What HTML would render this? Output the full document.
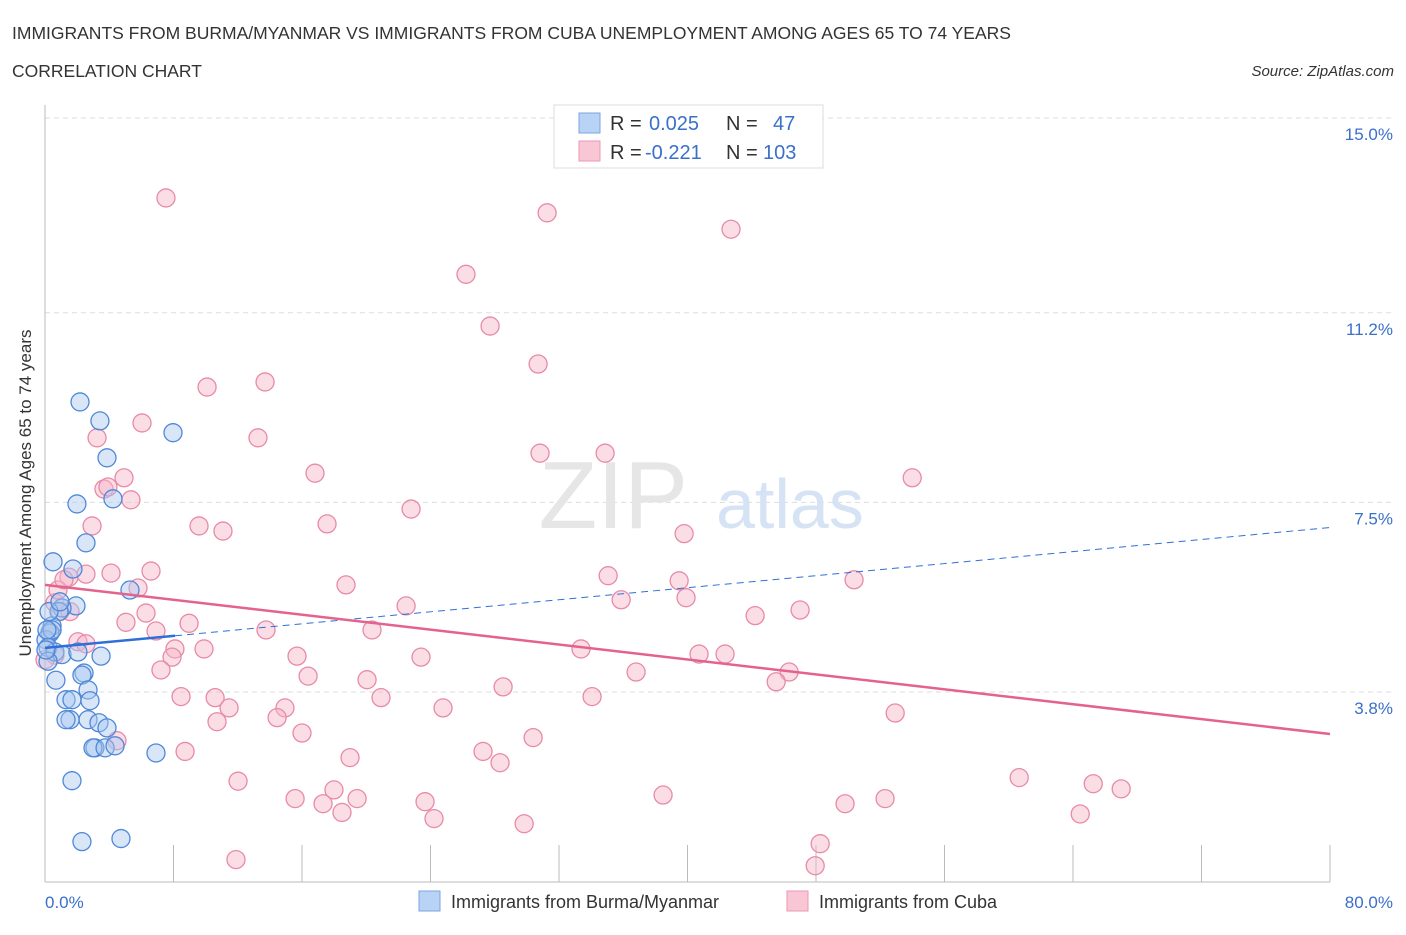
<!DOCTYPE html>
<html><head><meta charset="utf-8"><style>
body{margin:0;background:#fff;font-family:"Liberation Sans",sans-serif;}
svg text{font-family:"Liberation Sans",sans-serif;}
</style></head><body>
<svg id="c" width="1406" height="930" xmlns="http://www.w3.org/2000/svg">
<text x="12" y="39" font-size="17.5" fill="#333">IMMIGRANTS FROM BURMA/MYANMAR VS IMMIGRANTS FROM CUBA UNEMPLOYMENT AMONG AGES 65 TO 74 YEARS</text>
<text x="12" y="77" font-size="17.5" fill="#333">CORRELATION CHART</text>
<text x="1394" y="76" font-size="15" fill="#333" font-style="italic" text-anchor="end">Source: ZipAtlas.com</text>
<g id="grid"></g>
<text x="688" y="528" font-size="96" fill="#e6e6e6" font-family="Liberation Serif" text-anchor="end">ZIP</text>
<text x="716" y="528" font-size="70" fill="#d5e3f5">atlas</text>
<line x1="45" y1="105" x2="45" y2="882" stroke="#bbb"/>
<line x1="45" y1="882" x2="1330" y2="882" stroke="#bbb"/>
<g id="xt"></g>
<text x="31" y="493" font-size="17" fill="#333" text-anchor="middle" transform="rotate(-90 31 493)">Unemployment Among Ages 65 to 74 years</text>
<text x="45" y="908" font-size="17" fill="#3a70c8">0.0%</text>
<text x="1393" y="908" font-size="17" fill="#3a70c8" text-anchor="end">80.0%</text>
<g id="pts"></g>
<g id="tr"></g>
<g>
<rect x="554" y="105" width="269" height="63" fill="#fff" stroke="#ddd"/>
<rect x="579" y="113" width="21" height="20" fill="#b8d3f5" stroke="#7aa6e0"/>
<rect x="579" y="141" width="21" height="20" fill="#f9c6d6" stroke="#e99ab3"/>
<text x="610" y="130" font-size="20" fill="#333">R = </text><text x="649" y="130" font-size="20" fill="#3a70c8">0.025</text>
<text x="726" y="130" font-size="20" fill="#333">N = </text><text x="773" y="130" font-size="20" fill="#3a70c8">47</text>
<text x="610" y="159" font-size="20" fill="#333">R = </text><text x="645" y="159" font-size="20" fill="#3a70c8">-0.221</text>
<text x="726" y="159" font-size="20" fill="#333">N = </text><text x="763" y="159" font-size="20" fill="#3a70c8">103</text>
</g>
<g>
<rect x="419" y="891" width="21" height="20" fill="#b8d3f5" stroke="#7aa6e0"/>
<text x="451" y="908" font-size="18" fill="#333">Immigrants from Burma/Myanmar</text>
<rect x="787" y="891" width="21" height="20" fill="#f9c6d6" stroke="#e99ab3"/>
<text x="819" y="908" font-size="18" fill="#333">Immigrants from Cuba</text>
</g>
</svg>
<script>
const yTicks=[15.0,11.2,7.5,3.8];
const yTickLabels=["15.0%","11.2%","7.5%","3.8%"];
const xTicks=[0,8,16,24,32,40,48,56,64,72,80];
const burmaX=[2.18,3.42,7.97,3.86,4.23,1.99,2.55,0.50,1.74,5.29,1.93,1.06,0.87,0.44,0.31,0.06,0.19,0.62,1.06,2.05,3.49,0.19,0.68,2.43,2.30,2.68,1.31,1.68,2.80,1.56,1.31,2.68,3.36,3.86,3.11,2.99,3.74,4.36,6.91,1.68,2.30,4.73,0.25,0.06,0.44,0.93,0.12];
const burmaY=[9.46,9.09,8.86,8.37,7.57,7.47,6.71,6.34,6.20,5.79,5.48,5.44,5.37,5.09,4.95,4.82,4.67,4.58,4.53,4.58,4.50,4.40,4.03,4.17,4.13,3.84,3.65,3.65,3.63,3.26,3.26,3.26,3.20,3.10,2.71,2.71,2.71,2.75,2.61,2.07,0.88,0.94,5.37,4.62,5.01];
burmaY.push(5.56,5.01);
const cubaX=[7.53,31.26,42.71,26.21,27.71,30.70,13.70,10.09,6.04,3.24,13.26,30.82,34.87,4.92,16.81,53.99,3.67,3.92,5.35,22.79,2.93,9.59,11.08,17.56,39.79,1.49,2.55,4.11,6.60,35.06,39.48,18.74,50.37,5.79,0.62,0.93,1.56,35.87,39.91,22.48,47.01,6.29,44.21,5.04,8.97,6.91,13.76,20.36,0.31,2.05,2.55,8.09,9.90,33.37,40.72,42.34,15.69,23.41,7.91,0.62,7.22,46.33,16.38,45.52,36.80,20.05,28.52,8.47,10.59,20.92,34.06,11.46,24.78,14.94,52.93,14.45,10.71,16.00,30.39,4.48,8.72,18.99,27.27,28.33,12.02,60.65,65.26,67.00,17.99,15.57,38.48,52.30,17.31,19.43,23.66,49.81,64.45,24.22,18.49,29.83,48.26,11.89,47.95,0.00,0.81,1.18];
const cubaY=[13.44,13.15,12.83,11.95,10.94,10.20,9.85,9.75,9.05,8.76,8.76,8.46,8.46,7.98,8.07,7.98,7.76,7.80,7.55,7.37,7.04,7.04,6.94,7.08,6.89,6.04,6.10,6.12,6.16,6.07,5.97,5.89,5.99,5.83,5.54,5.37,5.37,5.60,5.64,5.48,5.40,5.34,5.29,5.16,5.14,4.99,5.01,5.01,4.97,4.78,4.74,4.64,4.64,4.64,4.54,4.54,4.50,4.48,4.48,4.52,4.23,4.19,4.11,4.00,4.19,4.04,3.90,3.71,3.69,3.69,3.71,3.49,3.49,3.49,3.39,3.30,3.22,3.00,2.91,2.85,2.64,2.52,2.64,2.42,2.06,2.13,2.01,1.91,1.89,1.72,1.79,1.72,1.62,1.72,1.66,1.62,1.42,1.33,1.45,1.23,0.84,0.53,0.41,4.43,5.79,5.99];
const burmaTrend=[4.66,7.01];
const cubaTrend=[5.89,2.98];
const burmaSolidEnd=8.1;
const NS='http://www.w3.org/2000/svg';
const xS=v=>45+v*16.0625;
const yS=v=>886.75-v*51.25;
function mk(t,a,p){const e=document.createElementNS(NS,t);for(const k in a)e.setAttribute(k,a[k]);p.appendChild(e);return e;}
const grid=document.getElementById('grid');
yTicks.forEach((t,i)=>{
 const l=mk('line',{x1:45,x2:1392,y1:yS(t),y2:yS(t),stroke:'#ddd','stroke-dasharray':'5,4'},grid);
 
 
 const tx=mk('text',{x:1393,y:yS(t)+22,'font-size':17,fill:'#3a70c8','text-anchor':'end'},grid);
 tx.textContent=yTickLabels[i];
 
 
});
const xt=document.getElementById('xt');
xTicks.forEach(t=>{
 const l=mk('line',{x1:xS(t),x2:xS(t),y1:845,y2:882,stroke:'#bbb'},xt);
 
 
});
const pts=document.getElementById('pts');
function series(X,Y,fill,stroke,name){
 for(let i=0;i<X.length;i++){
  const c=mk('circle',{cx:xS(X[i]),cy:yS(Y[i]),r:9,fill:fill,'fill-opacity':0.45,stroke:stroke,'stroke-width':1.3},pts);
  
  
 }
}
series(cubaX,cubaY,'#f6b3c8','#e88aa8','cuba-point');
series(burmaX,burmaY,'#a9c8f0','#4f88d8','burma-point');
const tr=document.getElementById('tr');
const bAt=x=>burmaTrend[0]+(burmaTrend[1]-burmaTrend[0])*x/80;
let l1=mk('line',{x1:xS(0),y1:yS(bAt(0)),x2:xS(burmaSolidEnd),y2:yS(bAt(burmaSolidEnd)),stroke:'#2f6fd6','stroke-width':2.5},tr);


let l2=mk('line',{x1:xS(burmaSolidEnd),y1:yS(bAt(burmaSolidEnd)),x2:xS(80),y2:yS(bAt(80)),stroke:'#2f6fd6','stroke-width':1,'stroke-dasharray':'7,5'},tr);


let l3=mk('line',{x1:xS(0),y1:yS(cubaTrend[0]),x2:xS(80),y2:yS(cubaTrend[1]),stroke:'#e4628e','stroke-width':2.5},tr);


</script>
</body></html>
